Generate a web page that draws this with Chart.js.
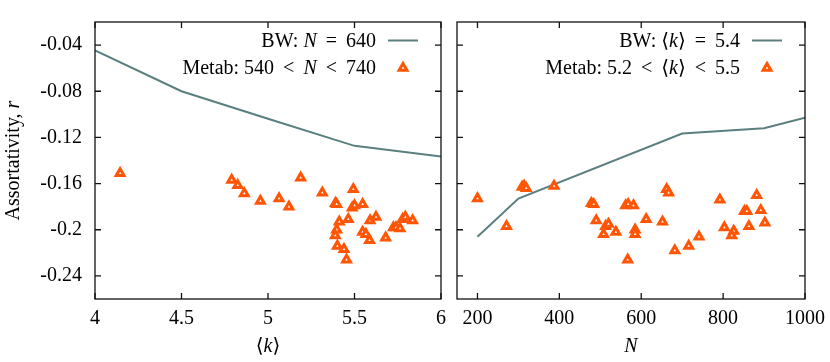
<!DOCTYPE html>
<html>
<head>
<meta charset="utf-8">
<script src="https://cdn.jsdelivr.net/npm/chart.js@4.4.1/dist/chart.umd.min.js"></script>
<style>
  html, body { margin: 0; padding: 0; background: #fff; }
  #wrap { position: relative; width: 830px; height: 362px; }
  canvas { position: absolute; top: 0; }
</style>
</head>
<body>
<div id="wrap">
  <canvas id="leftChart" width="449" height="362" style="left:0"></canvas>
  <canvas id="rightChart" width="381" height="362" style="left:449px"></canvas>
</div>
<script>
// tick labels
const rTicks = [-0.24, -0.2, -0.16, -0.12, -0.08, -0.04];
const kTicks = [4, 4.5, 5, 5.5, 6];
const nTicks = [200, 400, 600, 800, 1000];

// left panel: BW model at N = 640
const bwK = [4, 4.5, 5, 5.5, 6];
const bwRk = [-0.0446, -0.080, -0.1038, -0.1273, -0.1365];

// left panel: metabolic networks, 540 < N < 740
const metabK = [4.145, 4.79, 4.825, 4.863, 4.956, 5.064, 5.121, 5.189, 5.314, 5.493,
  5.39, 5.397, 5.487, 5.50, 5.547, 5.412, 5.464, 5.397, 5.389, 5.401,
  5.439, 5.454, 5.59, 5.624, 5.547, 5.566, 5.587, 5.68, 5.725, 5.74,
  5.763, 5.778, 5.794, 5.836];
const metabRk = [-0.151, -0.157, -0.1615, -0.1685, -0.175, -0.173, -0.180, -0.155, -0.168, -0.165,
  -0.177, -0.178, -0.181, -0.179, -0.178, -0.193, -0.191, -0.200, -0.205, -0.214,
  -0.217, -0.226, -0.192, -0.189, -0.202, -0.204, -0.209, -0.207, -0.198, -0.198,
  -0.199, -0.191, -0.189, -0.192];

// right panel: BW model at <k> = 5.4
const bwN = [200, 300, 700, 900, 1000];
const bwRn = [-0.206, -0.173, -0.1166, -0.112, -0.103];

// right panel: metabolic networks, 5.2 < <k> < 5.5
const metabN = [200, 271, 309, 314, 319, 387, 478, 484, 490, 513,
  520, 508, 538, 562, 568, 581, 585, 585, 567, 612,
  652, 662, 667, 682, 716, 741, 792, 803, 826, 821,
  852, 858, 863, 882, 892, 902];
const metabRn = [-0.173, -0.197, -0.163, -0.162, -0.164, -0.162, -0.177, -0.178, -0.192, -0.197,
  -0.195, -0.204, -0.202, -0.179, -0.178, -0.179, -0.200, -0.204, -0.226, -0.191,
  -0.193, -0.165, -0.168, -0.218, -0.214, -0.206, -0.174, -0.198, -0.201, -0.205,
  -0.184, -0.184, -0.197, -0.170, -0.183, -0.194];

const lineColor = "#5b7f7f";
const markColor = "#ff5505";
const FAMILY = '"Liberation Serif", "DejaVu Serif", serif';
const fontUp = "20px " + FAMILY;
const fontIt = "italic 20px " + FAMILY;

function toPoints(xs, ys) {
  return xs.map((x, i) => ({ x: x, y: ys[i] }));
}

// draw a run of text pieces, some italic, with optional gaps
function drawRich(ctx, segs, x, y, align) {
  let total = 0;
  segs.forEach(s => {
    if (s.gap) { total += s.gap; return; }
    ctx.font = s.it ? fontIt : fontUp;
    total += ctx.measureText(s.t).width;
  });
  let cx = align === "right" ? x - total : (align === "center" ? x - total / 2 : x);
  ctx.textAlign = "left";
  segs.forEach(s => {
    if (s.gap) { cx += s.gap; return; }
    ctx.font = s.it ? fontIt : fontUp;
    ctx.fillText(s.t, cx, y);
    cx += ctx.measureText(s.t).width;
  });
}

function drawTriangle(ctx, x, y) {
  ctx.save();
  ctx.strokeStyle = markColor;
  ctx.fillStyle = "#fff";
  ctx.lineWidth = 3;
  const r = 4.5;
  ctx.beginPath();
  ctx.moveTo(x, y - r);
  ctx.lineTo(x + r * 0.866, y + r * 0.5);
  ctx.lineTo(x - r * 0.866, y + r * 0.5);
  ctx.closePath();
  ctx.fill();
  ctx.stroke();
  ctx.restore();
}

const G = 9;
const kSym = [{ t: "\u27e8" }, { t: "k", it: true }, { t: "\u27e9" }];

function framePlugin(xTicks, legend1, legend2, xTitle, yTitle) {
  return {
    id: "frame",
    afterDraw(chart) {
      const ctx = chart.ctx;
      const a = chart.chartArea;
      const xs = chart.scales.x, ys = chart.scales.y;
      ctx.save();
      ctx.strokeStyle = "#111";
      ctx.lineWidth = 1.3;
      ctx.strokeRect(a.left, a.top, a.right - a.left, a.bottom - a.top);
      ctx.beginPath();
      xTicks.forEach(v => {
        const px = xs.getPixelForValue(v);
        ctx.moveTo(px, a.bottom); ctx.lineTo(px, a.bottom - 6);
        ctx.moveTo(px, a.top); ctx.lineTo(px, a.top + 6);
      });
      rTicks.forEach(v => {
        const py = ys.getPixelForValue(v);
        ctx.moveTo(a.left, py); ctx.lineTo(a.left + 6, py);
        ctx.moveTo(a.right, py); ctx.lineTo(a.right - 6, py);
      });
      ctx.stroke();

      // legend
      ctx.fillStyle = "#000";
      ctx.textBaseline = "alphabetic";
      drawRich(ctx, legend1, a.right - 65, 47, "right");
      drawRich(ctx, legend2, a.right - 65, 74, "right");
      ctx.strokeStyle = lineColor;
      ctx.lineWidth = 2;
      ctx.beginPath();
      ctx.moveTo(a.right - 53, 40.5);
      ctx.lineTo(a.right - 23, 40.5);
      ctx.stroke();
      drawTriangle(ctx, a.right - 38, 68);

      // axis titles
      ctx.fillStyle = "#000";
      drawRich(ctx, xTitle, (a.left + a.right) / 2, 352, "center");
      if (yTitle) {
        ctx.translate(19, (a.top + a.bottom) / 2);
        ctx.rotate(-Math.PI / 2);
        drawRich(ctx, yTitle, 0, 0, "center");
      }
      ctx.restore();
    }
  };
}

function makeChart(id, cfg) {
  return new Chart(document.getElementById(id), {
    type: "scatter",
    data: {
      datasets: [
        {
          label: "Metab",
          data: toPoints(cfg.mx, cfg.my),
          pointStyle: "triangle",
          pointRadius: 4.5,
          pointBorderWidth: 3,
          borderColor: markColor,
          backgroundColor: "#fff",
          order: 1
        },
        {
          label: "BW",
          data: toPoints(cfg.bx, cfg.by),
          showLine: true,
          borderColor: lineColor,
          borderWidth: 2,
          pointRadius: 0,
          order: 2
        }
      ]
    },
    options: {
      responsive: false,
      animation: false,
      devicePixelRatio: 1,
      layout: { padding: cfg.padding },
      plugins: { legend: { display: false }, tooltip: { enabled: false } },
      scales: {
        x: {
          type: "linear",
          min: cfg.xmin,
          max: cfg.xmax,
          afterBuildTicks: s => { s.ticks = cfg.xTicks.map(v => ({ value: v })); },
          afterFit: s => {
            s.height = 63;
            s.paddingLeft = 0;
            s.paddingRight = 0;
          },
          grid: { display: false, drawTicks: false },
          border: { display: false },
          ticks: {
            padding: 8,
            color: "#000",
            font: { family: FAMILY, size: 20 },
            maxRotation: 0,
            callback: v => String(v)
          }
        },
        y: {
          type: "linear",
          display: cfg.showY,
          min: -0.26,
          max: -0.02,
          afterBuildTicks: s => { s.ticks = rTicks.map(v => ({ value: v })); },
          afterFit: s => {
            s.width = cfg.showY ? 95 : 0;
            s.paddingTop = 0;
            s.paddingBottom = 0;
          },
          grid: { display: false, drawTicks: false },
          border: { display: false },
          ticks: {
            padding: 13,
            color: "#000",
            font: { family: FAMILY, size: 20 },
            callback: v => String(Math.round(v * 100) / 100)
          }
        }
      }
    },
    plugins: [framePlugin(cfg.xTicks, cfg.legend1, cfg.legend2, cfg.xTitle, cfg.yTitle)]
  });
}

makeChart("leftChart", {
  mx: metabK, my: metabRk, bx: bwK, by: bwRk,
  xmin: 4, xmax: 6, xTicks: kTicks, showY: true,
  padding: { top: 22, right: 8, left: 0, bottom: 0 },
  legend1: [{ t: "BW: " }, { t: "N", it: true }, { gap: G }, { t: "=" }, { gap: G }, { t: "640" }],
  legend2: [{ t: "Metab: 540" }, { gap: G }, { t: "<" }, { gap: G }, { t: "N", it: true },
    { gap: G }, { t: "<" }, { gap: G }, { t: "740" }],
  xTitle: kSym,
  yTitle: [{ t: "Assortativity, " }, { t: "r", it: true }]
});

makeChart("rightChart", {
  mx: metabN, my: metabRn, bx: bwN, by: bwRn,
  xmin: 150, xmax: 1000, xTicks: nTicks, showY: false,
  padding: { top: 22, right: 25, left: 8, bottom: 0 },
  legend1: [{ t: "BW: " }].concat(kSym, [{ gap: G }, { t: "=" }, { gap: G }, { t: "5.4" }]),
  legend2: [{ t: "Metab: 5.2" }, { gap: G }, { t: "<" }, { gap: G }].concat(kSym,
    [{ gap: G }, { t: "<" }, { gap: G }, { t: "5.5" }]),
  xTitle: [{ t: "N", it: true }],
  yTitle: null
});
</script>
</body>
</html>
